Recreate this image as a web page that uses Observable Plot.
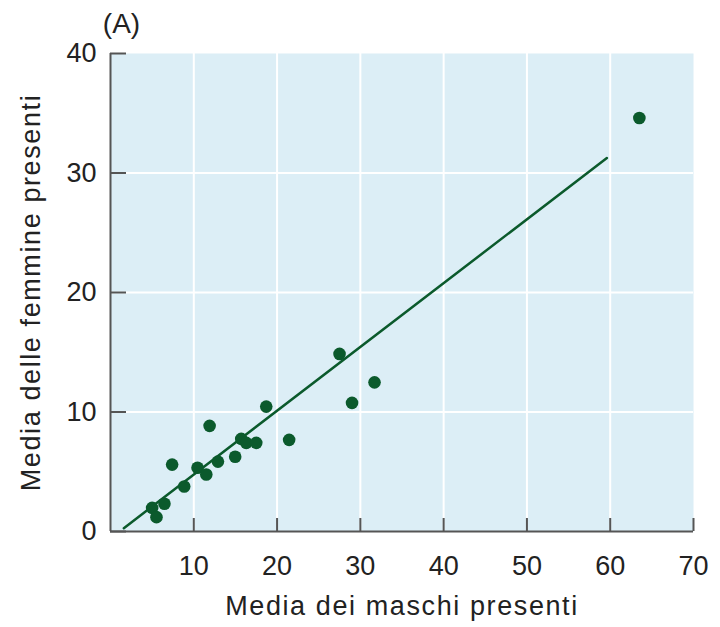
<!DOCTYPE html>
<html>
<head>
<meta charset="utf-8">
<script src="https://cdn.jsdelivr.net/npm/d3@7"></script>
<script src="https://cdn.jsdelivr.net/npm/@observablehq/plot@0.6"></script>
<style>
  html, body { margin: 0; padding: 0; background: #ffffff; }
  #chart { width: 720px; height: 627px; }
  .wide text, text.wide { letter-spacing: 1.6px; }
</style>
</head>
<body>
<div id="chart"></div>
<script>
// Data
const malesX   = [18.7, 29.0, 11.9, 15.7, 16.3, 17.5, 21.45, 7.4, 10.45, 11.5, 12.9, 14.97, 8.85, 6.48, 5.0, 5.52, 27.5, 31.7, 63.5];
const femalesY = [10.45, 10.76, 8.84, 7.75, 7.42, 7.42, 7.67, 5.6, 5.33, 4.77, 5.85, 6.25, 3.76, 2.32, 1.98, 1.2, 14.86, 12.48, 34.6];
const fitX = [1.6, 59.6];
const fitY = [0.28, 31.25];
const xTicks = [10, 20, 30, 40, 50, 60, 70];
const yTicks = [0, 10, 20, 30, 40];
const xGrid = [10, 20, 30, 40, 50, 60];
const yGrid = [10, 20, 30];
const panelLabel = ["(A)"];
const xLabel = ["Media dei maschi presenti"];
const yLabel = ["Media delle femmine presenti"];

const points = malesX.map((x, i) => ({x, y: femalesY[i]}));
const fit = fitX.map((x, i) => ({x, y: fitY[i]}));

const font = "'Liberation Sans', Arial, Helvetica, sans-serif";
const green = "#0b5a2c";
const axisGray = "#555555";
const ink = "#222222";

const chart = Plot.plot({
  width: 720,
  height: 627,
  marginLeft: 110,
  marginRight: 27,
  marginTop: 53,
  marginBottom: 96,
  style: {fontFamily: font, fontSize: "27px", color: ink, background: "white"},
  x: {domain: [0, 70]},
  y: {domain: [0, 40]},
  marks: [
    Plot.frame({fill: "#dceef6", stroke: "none"}),
    Plot.gridX(xGrid, {stroke: "white", strokeOpacity: 1, strokeWidth: 2}),
    Plot.gridY(yGrid, {stroke: "white", strokeOpacity: 1, strokeWidth: 2}),
    Plot.ruleY([0], {stroke: axisGray, strokeWidth: 2}),
    Plot.ruleX([0], {stroke: axisGray, strokeWidth: 2}),
    Plot.axisX(xTicks, {tickSize: -13, tickPadding: 37, stroke: axisGray, fill: ink, strokeWidth: 2, fontSize: 27, label: null}),
    Plot.axisY(yTicks, {tickSize: -16, tickPadding: 30, stroke: axisGray, fill: ink, strokeWidth: 2, fontSize: 27, label: null}),
    Plot.line(fit, {x: "x", y: "y", stroke: green, strokeWidth: 2.5}),
    Plot.dot(points, {x: "x", y: "y", r: 6.3, fill: green, stroke: "none"}),
    Plot.text(xLabel, {text: d => d, frameAnchor: "bottom", textAnchor: "middle", lineAnchor: "middle", dy: 75, fontSize: 27, fill: ink, className: "wide"}),
    Plot.text(yLabel, {text: d => d, frameAnchor: "left", textAnchor: "middle", lineAnchor: "middle", rotate: -90, dx: -79, fontSize: 27, fill: ink, className: "wide"}),
    Plot.text(panelLabel, {text: d => d, frameAnchor: "top-left", textAnchor: "middle", lineAnchor: "middle", dx: 11, dy: -29, fontSize: 28, fill: ink})
  ]
});
document.getElementById("chart").appendChild(chart);
</script>
</body>
</html>
